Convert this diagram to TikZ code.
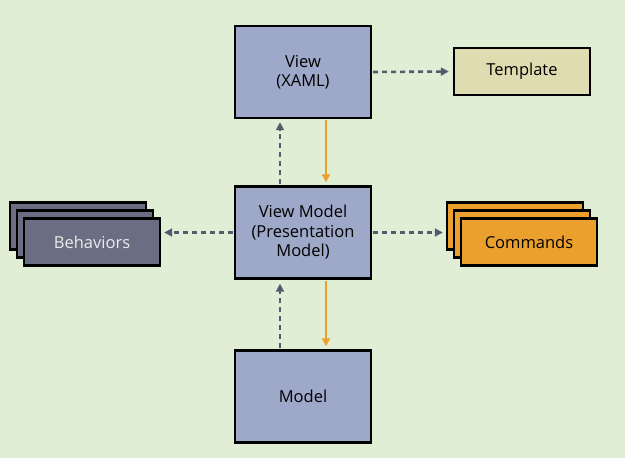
\documentclass[tikz,border=0pt]{standalone}
\usepackage{fontspec}
\setmainfont{Open Sans}
\usetikzlibrary{arrows.meta}
\definecolor{fundo}{HTML}{DFEED5}
\definecolor{azulcx}{HTML}{9EA8C8}
\definecolor{amarelo}{HTML}{DEDCB0}
\definecolor{cinzacx}{HTML}{6B6E82}
\definecolor{laranja}{HTML}{EBA02E}
\definecolor{seta}{HTML}{555B6E}
\tikzset{
  caixa/.style={draw=black,line width=2.4pt,fill=azulcx,minimum width=136pt,
    minimum height=92pt,align=center,inner sep=0pt,
    font=\fontsize{16.5}{19.5}\selectfont},
  pilha/.style={caixa,minimum height=47pt},
  tracejado/.style={seta,line width=2.6pt,dash pattern=on 5pt off 4pt,->},
  laranjado/.style={laranja,line width=2pt,->},
}
\begin{document}
\begin{tikzpicture}[x=1pt,y=-1pt,>={Triangle[length=8pt,width=8pt]}]
		\useasboundingbox (0,0) rectangle (625,458);
		\path[fill=fundo] (0,0) rectangle (625,458);
%		caixas centrais
		\node[caixa] (view) at (303,72) {View\\(XAML)};
		\node[caixa] (vm) at (303,232.5) {View Model\\(Presentation\\Model)};
		\node[caixa] (model) at (303,396.5) {Model};
		\node[pilha,fill=amarelo] (template) at (522,71.5) {Template};
%		pilha esquerda
		\node[pilha,fill=cinzacx] (beh3) at (78,226) {};
		\node[pilha,fill=cinzacx] (beh2) at (85,234) {};
		\node[pilha,fill=cinzacx,text=white!92!black] (beh1) at (92,242) {Behaviors};
%		pilha direita
		\node[pilha,fill=laranja] (cmd3) at (515,226) {};
		\node[pilha,fill=laranja] (cmd2) at (522,234) {};
		\node[pilha,fill=laranja] (cmd1) at (529,242) {Commands};
%		setas
		\draw[tracejado,shorten >=4pt,shorten <=1pt] (view.east) -- (template.west);
		\draw[tracejado,shorten >=3pt,shorten <=1pt] (vm.west) -- (vm.west -| beh1.east);
		\draw[tracejado,shorten >=3pt,shorten <=1pt] (vm.east) -- (vm.east -| cmd3.west);
		\draw[tracejado,shorten >=3pt,shorten <=1pt] ([xshift=-23pt]vm.north) -- ([xshift=-23pt]view.south);
		\draw[tracejado,shorten >=4pt,shorten <=1pt] ([xshift=-23pt]model.north) -- ([xshift=-23pt]vm.south);
		\draw[laranjado,shorten >=3pt,shorten <=1pt] ([xshift=23pt]view.south) -- ([xshift=23pt]vm.north);
		\draw[laranjado,shorten >=3pt,shorten <=1pt] ([xshift=23pt]vm.south) -- ([xshift=23pt]model.north);
\end{tikzpicture}
\end{document}
